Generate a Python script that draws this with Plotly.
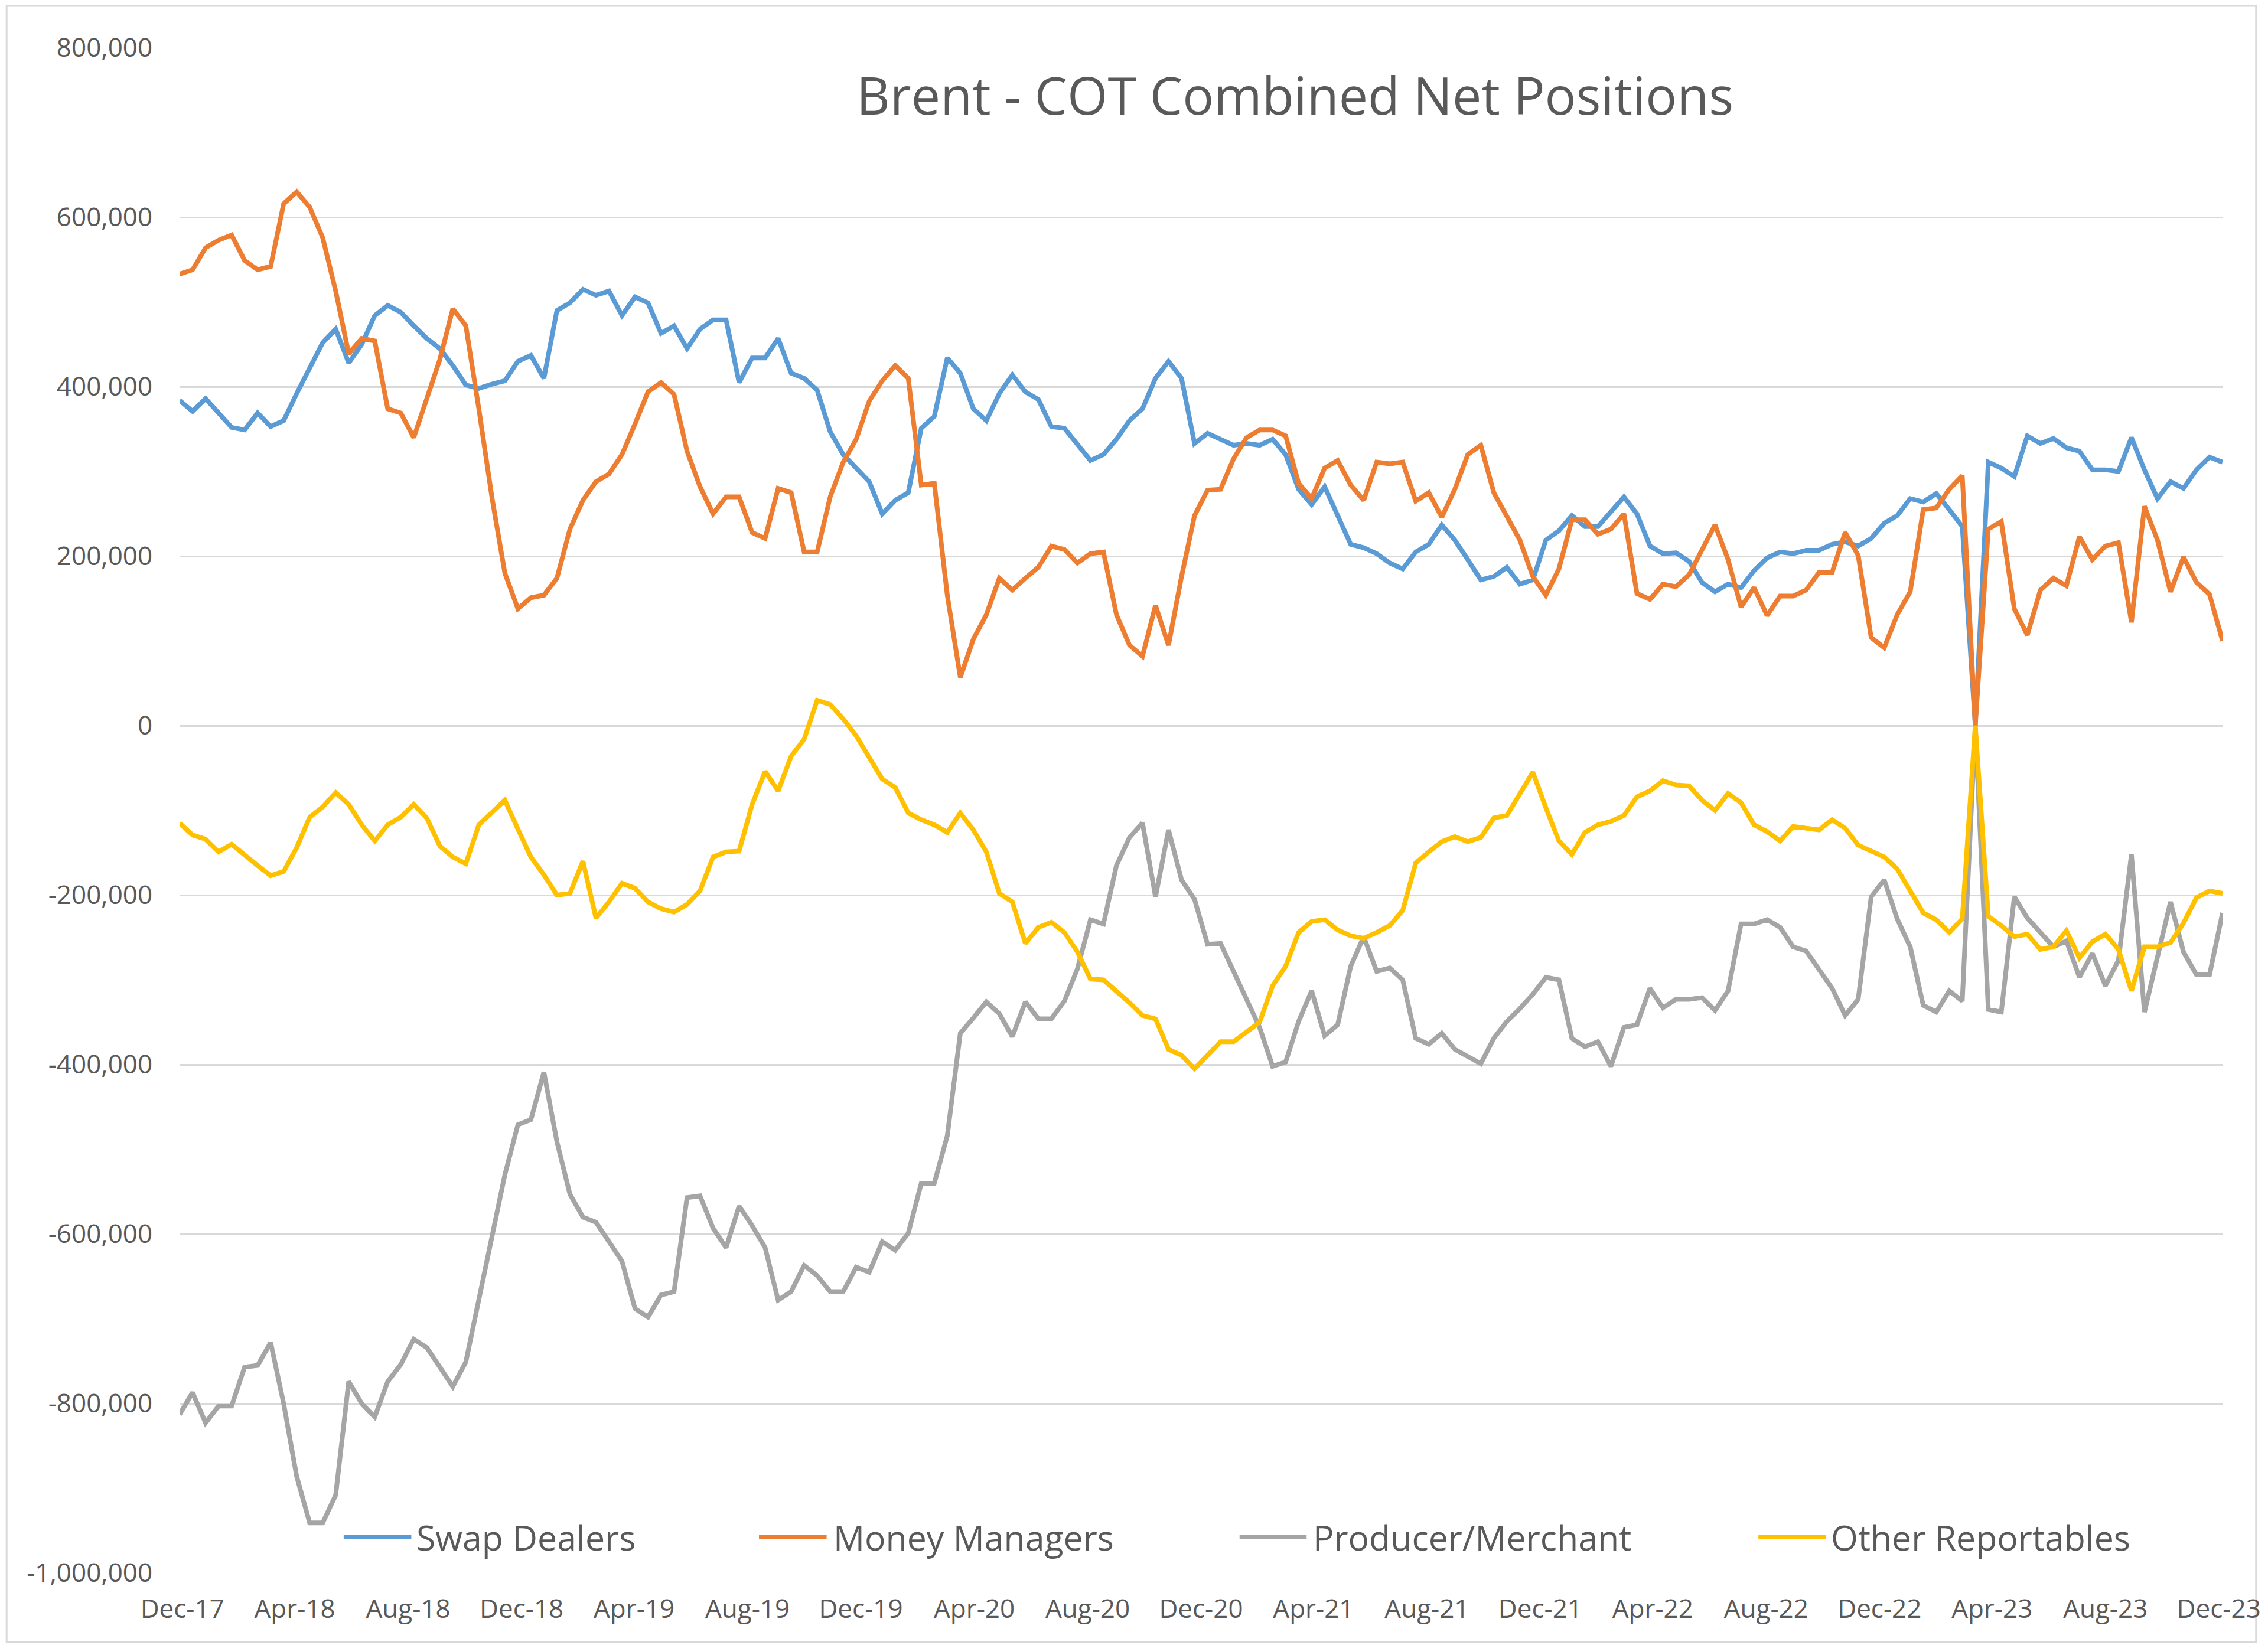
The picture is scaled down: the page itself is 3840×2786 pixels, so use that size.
import pandas as pd
import plotly.graph_objects as go

# ---------------- data (weekly COT sampled every 2 weeks, values in thousands of lots) -------------
dates = pd.date_range("2017-11-28", periods=158, freq="14D")

swap_dealers_k = [
    384, 371, 386, 369, 352, 349, 369, 353, 360, 392, 423, 452, 468, 428, 450, 484, 496, 488, 472, 457,
    445, 425, 402, 398, 403, 407, 430,
    437, 410, 490, 499, 515, 508, 513, 484, 506, 499, 463, 472, 445, 468, 479, 479, 405, 434, 434, 457,
    416, 410, 396, 347, 320, 304,
    288, 250, 266, 275, 351, 365, 434, 416, 374, 360, 392, 414, 394, 385, 353, 351, 333, 313, 320, 338,
    360, 374, 410, 430, 410, 333, 345,
    338, 331, 333, 331, 338, 320, 279, 261, 282, 248, 214, 210, 203, 192, 185, 205, 214, 237, 219, 196,
    172, 176, 187, 167, 172, 219,
    230, 248, 235, 235, 252, 270, 250, 212, 203, 204, 194, 169, 158, 167, 163, 183, 198, 205, 203, 207,
    207, 214, 217, 212, 221, 239,
    248, 268, 264, 274, 255, 235, 0, 311, 304, 294, 342, 333, 339, 328, 324, 302, 302, 300, 340, 302,
    268, 288, 280, 302, 317, 311,
]

money_managers_k = [
    533, 538, 564, 573, 579, 549, 538, 542, 616, 630, 612, 576, 513, 439, 457, 454, 374, 369, 340, 387,
    432, 492, 472, 374, 270, 180, 138,
    151, 154, 174, 232, 266, 288, 297, 320, 356, 394, 405, 391, 324, 282, 250, 270, 270, 228, 221, 280,
    275, 205, 205, 270, 311, 338,
    383, 407, 425, 410, 284, 286, 154, 57, 102, 131, 174, 160, 174, 187, 212, 208, 192, 203, 205, 131,
    95, 82, 142, 95, 176, 248, 278,
    279, 315, 340, 349, 349, 342, 286, 268, 304, 313, 284, 266, 311, 309, 311, 265, 275, 246, 279, 320,
    331, 275, 246, 219, 176, 154,
    185, 243, 243, 226, 232, 250, 156, 149, 167, 164, 178, 207, 237, 196, 140, 163, 130, 153, 153, 160,
    181, 181, 228, 201, 104, 92,
    131, 158, 255, 257, 279, 295, 0, 232, 241, 138, 107, 160, 174, 165, 223, 196, 212, 216, 122, 259,
    219, 158, 199, 169, 155, 100,
]

producer_merchant_k = [
    -813, -787, -823, -803, -803, -757, -755, -728, -800, -886, -941, -941, -908, -774, -800, -816, -774,
    -754, -724, -734, -757, -780, -751, -678, -603, -530, -471,
    -465, -409, -491, -553, -580, -586, -609, -632, -688, -698, -672, -668, -557, -555, -593, -616, -567,
    -590, -616, -678, -668, -637, -649, -668, -668, -639,
    -645, -609, -619, -599, -540, -540, -484, -363, -345, -326, -340, -367, -326, -346, -346, -325, -287,
    -229, -234, -165, -132, -115, -202, -123, -182, -205, -258,
    -257, -290, -323, -356, -402, -397, -349, -313, -366, -353, -284, -249, -290, -286, -300, -369, -376,
    -363, -382, -391, -399, -369, -349, -334, -317, -297,
    -300, -369, -379, -373, -402, -356, -353, -310, -333, -323, -323, -321, -336, -313, -234, -234, -229,
    -238, -261, -266, -287, -310, -342, -323, -202, -182,
    -228, -261, -330, -338, -313, -325, 0, -335, -338, -202, -227, -244, -261, -254, -297, -269, -307,
    -277, -152, -338, -274, -208, -267, -294, -294, -221,
]

other_reportables_k = [
    -115, -129, -134, -149, -140, -153, -165, -177, -172, -144, -108, -96, -79, -93, -117, -136, -117,
    -108, -93, -109, -142, -155, -163, -117, -102, -88, -122,
    -155, -176, -200, -198, -160, -227, -208, -186, -192, -208, -216, -220, -211, -195, -155, -149, -148,
    -93, -54, -77, -36, -16, 30, 25, 8, -12,
    -38, -63, -73, -103, -111, -117, -126, -103, -123, -149, -198, -208, -257, -238, -232, -244, -267,
    -299, -300, -313, -327, -342, -346, -382, -389, -405, -388,
    -373, -373, -361, -350, -307, -284, -244, -231, -229, -241, -248, -251, -244, -236, -218, -162, -149,
    -137, -131, -137, -132, -109, -106, -80, -55, -97,
    -136, -152, -126, -117, -113, -106, -84, -77, -65, -70, -71, -88, -100, -80, -91, -117, -125, -136,
    -119, -121, -123, -111, -121, -141, -148, -155,
    -169, -194, -221, -229, -244, -228, 0, -225, -236, -249, -246, -264, -261, -242, -274, -255, -246,
    -264, -313, -261, -261, -256, -233, -203, -195, -198,
]

series_names = ["Swap Dealers", "Money Managers", "Producer/Merchant", "Other Reportables"]
series_colors = ["#5B9BD5", "#ED7D31", "#A5A5A5", "#FFC000"]

x_tick_dates = ["2017-12-01", "2018-04-01", "2018-08-01", "2018-12-01", "2019-04-01", "2019-08-01",
                "2019-12-01", "2020-04-01", "2020-08-01", "2020-12-01", "2021-04-01", "2021-08-01",
                "2021-12-01", "2022-04-01", "2022-08-01", "2022-12-01", "2023-04-01", "2023-08-01",
                "2023-12-01"]
x_tick_labels = ["Dec-17", "Apr-18", "Aug-18", "Dec-18", "Apr-19", "Aug-19", "Dec-19", "Apr-20",
                 "Aug-20", "Dec-20", "Apr-21", "Aug-21", "Dec-21", "Apr-22", "Aug-22", "Dec-22",
                 "Apr-23", "Aug-23", "Dec-23"]
y_tick_values = [-1000000, -800000, -600000, -400000, -200000, 0, 200000, 400000, 600000, 800000]
y_tick_labels = ["-1,000,000", "-800,000", "-600,000", "-400,000", "-200,000", "0",
                 "200,000", "400,000", "600,000", "800,000"]

title_text = "Brent - COT Combined Net Positions"

# ---------------- layout geometry (page pixel coords; page body has an 8px margin) ----------------
OFF = 8
W, H = 3840 - OFF, 2786 - OFF
PL, PR, PT, PB = 304, 3777, 81, 2664          # plot area in page coordinates
FONT = "Open Sans, Lato, sans-serif"
TXT = "#595959"
LW = 8


def px(xp):
    return (xp - PL) / (PR - PL)


def py(yp):
    return (PB - yp) / (PB - PT)


fig = go.Figure()
all_series = [swap_dealers_k, money_managers_k, producer_merchant_k, other_reportables_k]
for name, color, vals in zip(series_names, series_colors, all_series):
    fig.add_trace(go.Scatter(
        x=dates, y=[v * 1000 for v in vals], name=name, mode="lines",
        line=dict(color=color, width=LW), showlegend=False,
    ))

shapes = []
annotations = []

# custom Excel-like legend (page coords)
legend_pos = [(583, 698, 705), (1289, 1404, 1413), (2106, 2220, 2229), (2988, 3103, 3109)]
leg_y = 2603
for name, color, (x0, x1, xt) in zip(series_names, series_colors, legend_pos):
    shapes.append(dict(type="line", xref="paper", yref="paper", x0=px(x0), x1=px(x1),
                       y0=py(leg_y), y1=py(leg_y), line=dict(color=color, width=LW)))
    annotations.append(dict(xref="paper", yref="paper", x=px(xt), y=py(leg_y), text=name,
                            showarrow=False, xanchor="left", yanchor="middle",
                            font=dict(family=FONT, size=59, color=TXT)))

# title
annotations.append(dict(xref="paper", yref="paper", x=px(2200), y=py(160), text=title_text,
                        showarrow=False, xanchor="center", yanchor="middle",
                        font=dict(family=FONT, size=88, color=TXT)))

# outer chart border
shapes.append(dict(type="rect", xref="paper", yref="paper", x0=px(10), x1=px(3834),
                   y0=py(2781), y1=py(10), line=dict(color="#D9D9D9", width=3), layer="below"))

fig.update_layout(
    width=W, height=H,
    margin=dict(l=PL - OFF, r=W - (PR - OFF), t=PT - OFF, b=H - (PB - OFF), pad=0),
    paper_bgcolor="white", plot_bgcolor="white",
    font=dict(family=FONT, color=TXT),
    shapes=shapes, annotations=annotations,
    showlegend=False,
    xaxis=dict(type="date", range=["2017-11-28", "2023-12-05"],
               tickvals=x_tick_dates, ticktext=x_tick_labels,
               showgrid=False, zeroline=False, showline=False,
               ticks="outside", ticklen=22, tickcolor="rgba(0,0,0,0)",
               ticklabeloverflow="allow",
               tickfont=dict(family=FONT, size=44, color=TXT)),
    yaxis=dict(range=[-1000000, 800000], tickvals=y_tick_values, ticktext=y_tick_labels,
               showgrid=True, gridcolor="#D9D9D9", gridwidth=3, zeroline=False, showline=False,
               ticks="outside", ticklen=36, tickcolor="rgba(0,0,0,0)",
               tickfont=dict(family=FONT, size=44, color=TXT)),
)

fig.write_html("out.html")
